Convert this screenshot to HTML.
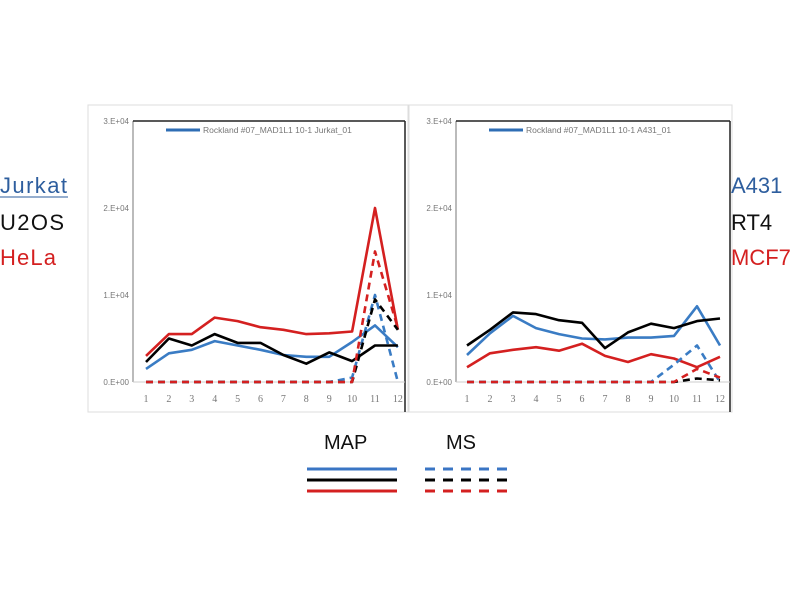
<!DOCTYPE html>
<html><head><meta charset="utf-8"><style>
body{margin:0;background:#fff;width:800px;height:600px;overflow:hidden;font-family:"Liberation Sans",sans-serif}
</style></head><body>
<svg id="s" width="800" height="600" xmlns="http://www.w3.org/2000/svg" font-family="Liberation Sans, sans-serif">
<rect x="88" y="105" width="320" height="307" fill="none" stroke="#ddd"/>
<rect x="409" y="105" width="323" height="307" fill="none" stroke="#ddd"/>
<text x="0" y="193" font-size="22" fill="#2e5e9e" textLength="67">Jurkat</text>
<line x1="0" y1="197" x2="68" y2="197" stroke="#2e5e9e" stroke-width="1"/>
<text x="0" y="230" font-size="22" fill="#111" textLength="64">U2OS</text>
<text x="0" y="265" font-size="22" fill="#d42020" textLength="56">HeLa</text>
<text x="731" y="193" font-size="22" fill="#2e5e9e">A431</text>
<text x="731" y="230" font-size="22" fill="#111">RT4</text>
<text x="731" y="265" font-size="22" fill="#d42020">MCF7</text>
<text x="324" y="449" font-size="20" fill="#111">MAP</text>
<text x="446" y="449" font-size="20" fill="#111">MS</text>
<g stroke-width="3">
<line x1="307" y1="469" x2="397" y2="469" stroke="#3a75c4"/>
<line x1="307" y1="480" x2="397" y2="480" stroke="#000"/>
<line x1="307" y1="491" x2="397" y2="491" stroke="#d42020"/>
<line x1="425" y1="469" x2="515" y2="469" stroke="#3a75c4" stroke-dasharray="10 8"/>
<line x1="425" y1="480" x2="515" y2="480" stroke="#000" stroke-dasharray="10 8"/>
<line x1="425" y1="491" x2="515" y2="491" stroke="#d42020" stroke-dasharray="10 8"/>
</g>
<g id="g"></g>
</svg>
<script>
var g=document.getElementById('g'),h='';
function chart(x0,x1,xs,step,legend,d){
 var y0=382,k=87;
 h+='<line x1="'+x0+'" y1="121" x2="'+x0+'" y2="382" stroke="#777" stroke-width="1"/>';
 h+='<line x1="'+x0+'" y1="121" x2="'+x1+'" y2="121" stroke="#222" stroke-width="1.5"/>';
 h+='<line x1="'+x1+'" y1="121" x2="'+x1+'" y2="412" stroke="#222" stroke-width="1.5"/>';
 h+='<line x1="'+x0+'" y1="382" x2="'+x1+'" y2="382" stroke="#ccc" stroke-width="1"/>';
 var labs=['0.E+00','1.E+04','2.E+04','3.E+04'];
 for(var i=0;i<4;i++){var y=y0-k*i;h+='<text x="'+(x0-4)+'" y="'+(y+3)+'" font-size="8" fill="#777" text-anchor="end">'+labs[i]+'</text>';}
 for(var i=1;i<=12;i++)h+='<text x="'+(xs+(i-1)*step)+'" y="402" font-size="10" fill="#777" text-anchor="middle" font-family="Liberation Serif, serif">'+i+'</text>';
 h+='<line x1="'+(x0+33)+'" y1="130" x2="'+(x0+67)+'" y2="130" stroke="#2e6db4" stroke-width="3"/>';
 h+='<text x="'+(x0+70)+'" y="133" font-size="8.5" fill="#777">'+legend+'</text>';
 d.forEach(function(s){
  var p=s[2].map(function(v,i){return (xs+i*step).toFixed(1)+','+(y0-k*v).toFixed(1)}).join(' ');
  h+='<polyline points="'+p+'" fill="none" stroke="'+s[0]+'" stroke-width="2.6" stroke-linejoin="round"'+(s[1]?' stroke-dasharray="7 5"':'')+'/>';
 });
}
var R='#d42020',B='#3a7cc4',K='#000';
chart(133,405,146,22.9,'Rockland #07_MAD1L1 10-1 Jurkat_01',[
 [R,0,[0.3,0.55,0.55,0.74,0.7,0.63,0.6,0.55,0.56,0.58,2.0,0.6]],
 [B,0,[0.15,0.33,0.37,0.47,0.42,0.37,0.31,0.29,0.29,0.46,0.65,0.4]],
 [K,0,[0.23,0.5,0.42,0.55,0.45,0.45,0.31,0.21,0.34,0.24,0.42,0.42]],
 [B,1,[0,0,0,0,0,0,0,0,0,0.05,1.0,0]],
 [K,1,[0,0,0,0,0,0,0,0,0,0,0.95,0.6]],
 [R,1,[0,0,0,0,0,0,0,0,0,0,1.5,0.62]]
]);
chart(456,730,467,23,'Rockland #07_MAD1L1 10-1 A431_01',[
 [R,0,[0.17,0.33,0.37,0.4,0.36,0.44,0.3,0.23,0.32,0.27,0.17,0.29]],
 [B,0,[0.31,0.56,0.76,0.62,0.55,0.5,0.49,0.51,0.51,0.53,0.87,0.42]],
 [K,0,[0.42,0.6,0.8,0.78,0.71,0.68,0.39,0.57,0.67,0.62,0.7,0.73]],
 [K,1,[0,0,0,0,0,0,0,0,0,0,0.04,0.02]],
 [B,1,[0,0,0,0,0,0,0,0,0,0.2,0.42,0]],
 [R,1,[0,0,0,0,0,0,0,0,0,0,0.15,0.05]]
]);
g.innerHTML=h;
</script>
</body></html>
